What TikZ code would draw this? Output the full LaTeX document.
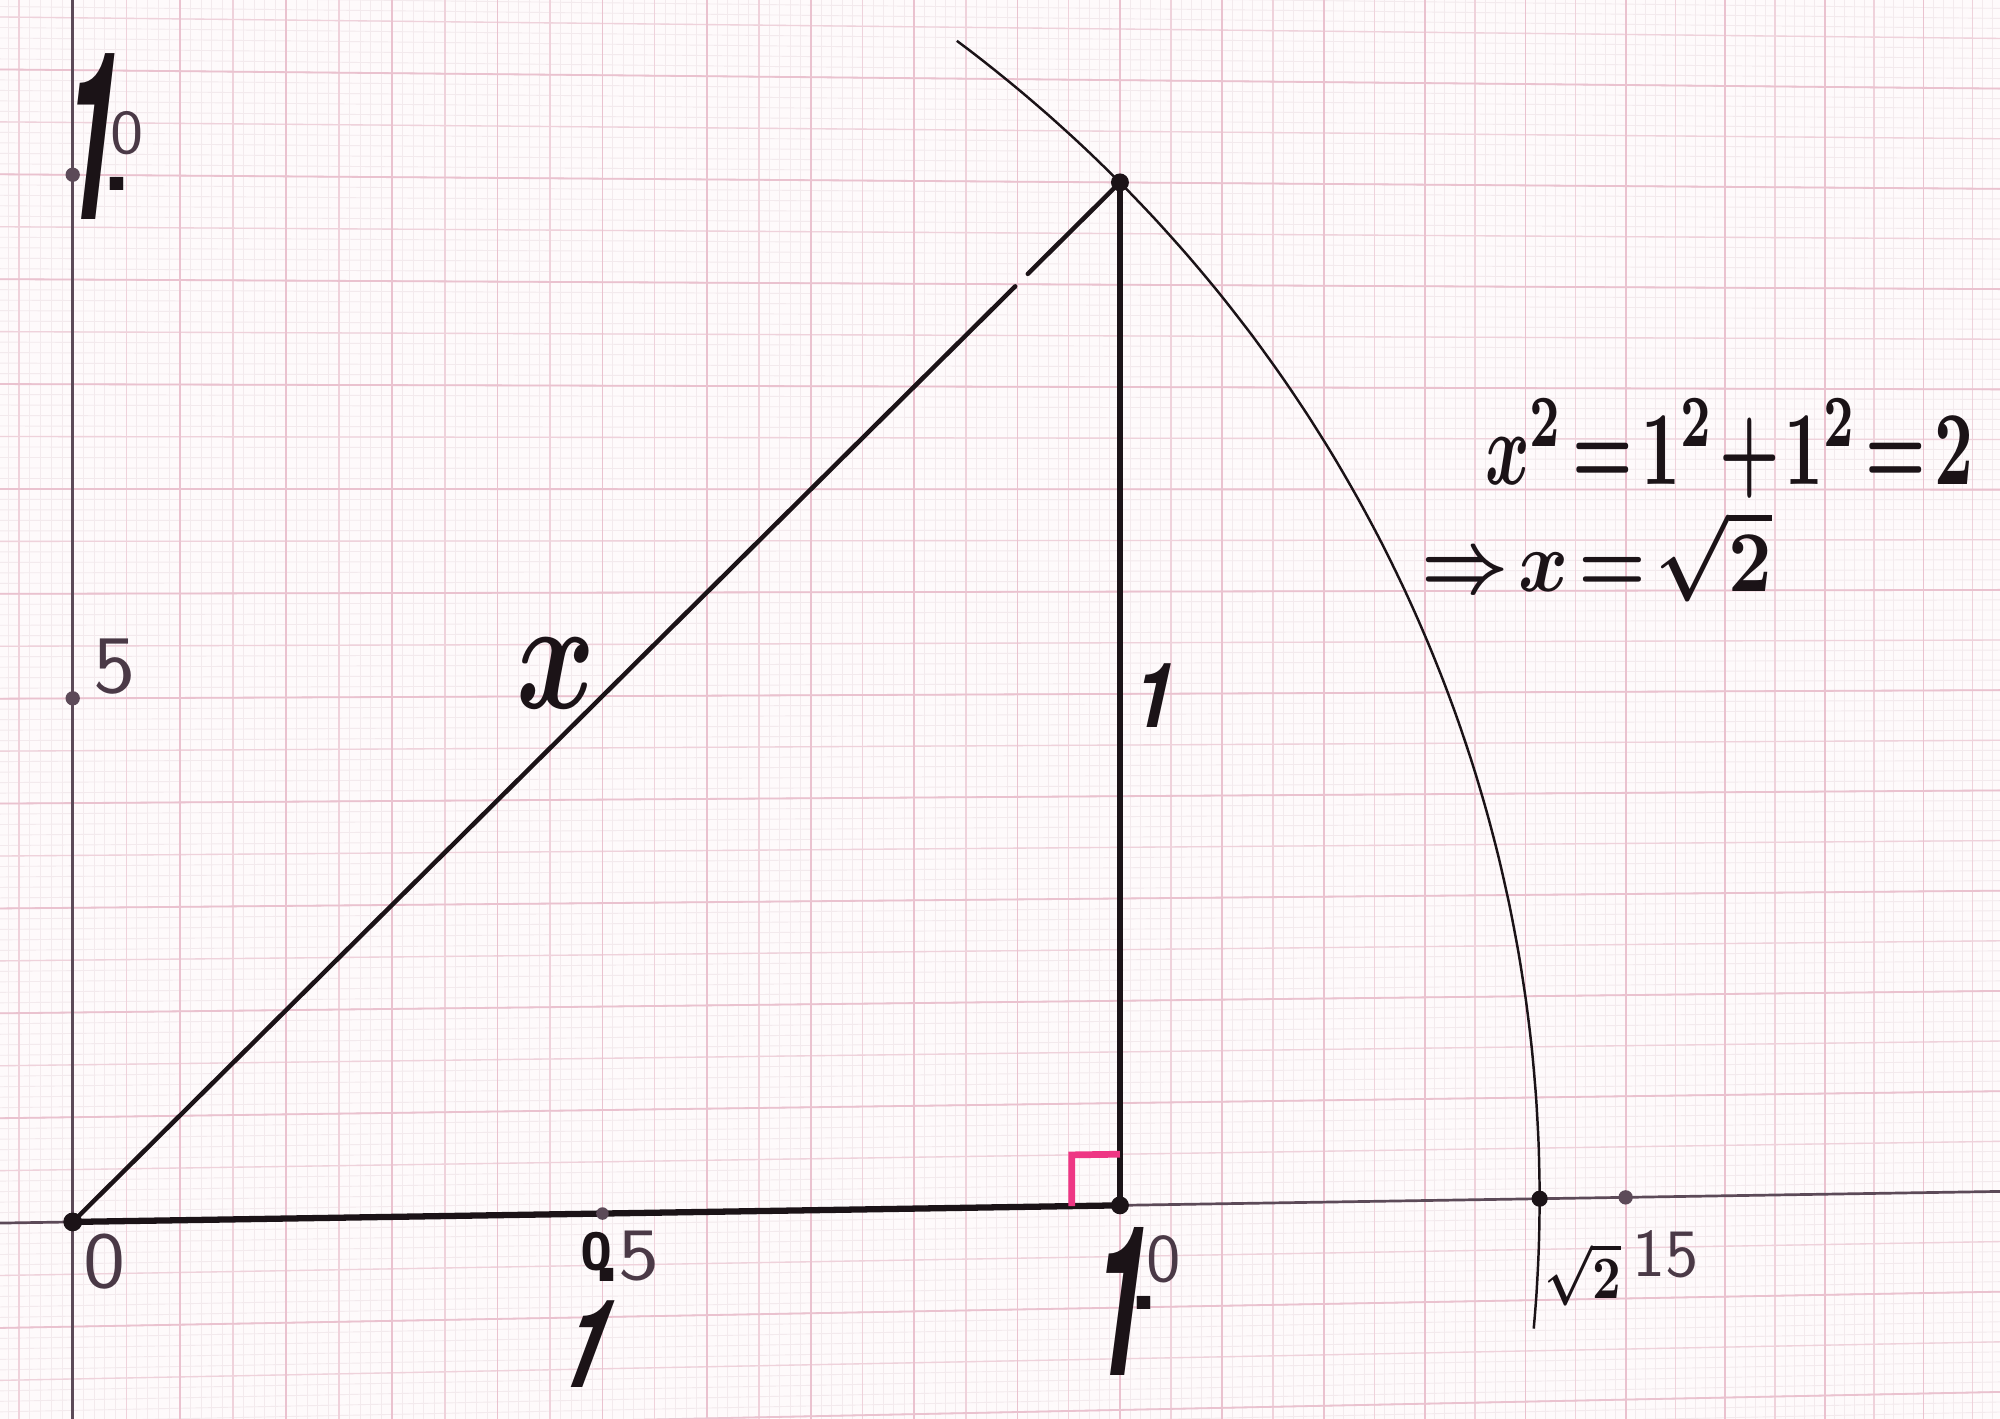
\documentclass[tikz,border=0pt]{standalone}
\usepackage{fontspec}
\usepackage{graphicx}
\newfontfamily\handfont{TeX Gyre Heros}
\newfontfamily\slantone[FakeSlant=0.27]{TeX Gyre Heros}
\usetikzlibrary{calc}
\definecolor{paper}{HTML}{FEFAFB}
\definecolor{gridfinec}{HTML}{F3EAED}
\definecolor{gridmedc}{HTML}{EFD2DB}
\definecolor{gridmajc}{HTML}{EAC2CF}
\definecolor{inkc}{HTML}{1B1317}
\definecolor{axisc}{HTML}{5C4A58}
\definecolor{pencilc}{HTML}{4A3946}
\definecolor{markerc}{HTML}{EE3684}
\newcommand{\thinface}{\sffamily\mdseries\color{pencilc}}
\begin{document}
\begin{tikzpicture}[x=0.01cm,y=-0.01cm,
  declare function={px(\ucoord,\vcoord)=57+840.5*\ucoord/(1+0.0237*\ucoord);
                    py(\ucoord,\vcoord)=958-(821*\vcoord+13.3*\ucoord)/(1+0.0237*\ucoord);},
  gfine/.style={draw=gridfinec,line width=0.2pt},
  gmed/.style={draw=gridmedc,line width=0.3pt},
  gmaj/.style={draw=gridmajc,line width=0.4pt},
  axisline/.style={draw=axisc,line width=0.6pt},
  basestroke/.style={draw=inkc,line width=1.4pt,line cap=round},
  legstroke/.style={draw=inkc,line width=1.2pt,line cap=round},
  hypstroke/.style={draw=inkc,line width=1.0pt,line cap=round},
  arcstroke/.style={draw=inkc,line width=0.55pt},
  rightmark/.style={draw=markerc,line width=1.5pt},
  thinlbl/.style={text=pencilc,inner sep=0pt,font=\sffamily},
  boldlbl/.style={text=inkc,inner sep=0pt,font=\handfont\bfseries},
  onelbl/.style={text=inkc,inner sep=0pt,font=\slantone\bfseries},
  mathlbl/.style={text=inkc,inner sep=0pt,font=\boldmath},
]
\useasboundingbox (0,0) rectangle (1568,1112.5);
\fill[paper] (0,0) rectangle (1568,1112.5);

\coordinate (O) at ({px(0,0)},{py(0,0)});
\coordinate (A) at ({px(1,0)},{py(1,0)});
\coordinate (B) at ({px(1,1)},{py(1,1)});
\coordinate (H) at ({px(0.5,0)},{py(0.5,0)});
\coordinate (S) at ({px(1.4142,0)},{py(1.4142,0)});
\coordinate (F) at ({px(1.5,0)},{py(1.5,0)});
\coordinate (Y5) at ({px(0,0.5)},{py(0,0.5)});
\coordinate (Y1) at ({px(0,1)},{py(0,1)});
\coordinate (XL) at ({px(-0.1,0)},{py(-0.1,0)});
\coordinate (XR) at ({px(1.95,0)},{py(1.95,0)});
\coordinate (YB) at ({px(0,-0.25)},{py(0,-0.25)});
\coordinate (YT) at ({px(0,1.25)},{py(0,1.25)});
\coordinate (M1) at ({px(0.953,0)},{py(0.953,0)});
\coordinate (M2) at ({px(0.953,0.05)},{py(0.953,0.05)});
\coordinate (M3) at ({px(1,0.05)},{py(1,0.05)});

\begin{scope}
  \clip (0,0) rectangle (1568,1112.5);
  \foreach \i in {-8,...,193} {\draw[gfine] ({px(\i/100,-0.3)},{py(\i/100,-0.3)}) -- ({px(\i/100,1.25)},{py(\i/100,1.25)});}
  \foreach \j in {-26,...,122} {\draw[gfine] ({px(-0.1,\j/100)},{py(-0.1,\j/100)}) -- ({px(1.95,\j/100)},{py(1.95,\j/100)});}
  \foreach \i in {-5,0,...,190} {\draw[gmed] ({px(\i/100,-0.3)},{py(\i/100,-0.3)}) -- ({px(\i/100,1.25)},{py(\i/100,1.25)});}
  \foreach \j in {-25,-20,...,120} {\draw[gmed] ({px(-0.1,\j/100)},{py(-0.1,\j/100)}) -- ({px(1.95,\j/100)},{py(1.95,\j/100)});}
  \foreach \i in {0,10,...,190} {\draw[gmaj] ({px(\i/100,-0.3)},{py(\i/100,-0.3)}) -- ({px(\i/100,1.25)},{py(\i/100,1.25)});}
  \foreach \j in {-20,-10,...,120} {\draw[gmaj] ({px(-0.1,\j/100)},{py(-0.1,\j/100)}) -- ({px(1.95,\j/100)},{py(1.95,\j/100)});}

  \draw[axisline] (XL) -- (XR);
  \draw[axisline] (YB) -- (YT);
  \draw[arcstroke] plot[domain=-5.2:53.5,samples=90,variable=\t,smooth]
     ({px(1.4142*cos(\t),1.4142*sin(\t))},{py(1.4142*cos(\t),1.4142*sin(\t))});
\end{scope}

\draw[basestroke] (O) -- (A);
\draw[legstroke] (A) -- (B);
\draw[hypstroke] (O) -- ($(O)!0.9!(B)$);
\draw[hypstroke] ($(O)!0.912!(B)$) -- (B);
\draw[rightmark] (M1) -- (M2) -- (M3);

\fill[inkc] (O) circle (2.1pt);
\fill[inkc] (A) circle (2pt);
\fill[inkc] (B) circle (2pt);
\fill[inkc] (S) circle (1.8pt);
\fill[axisc] (F) circle (1.6pt);
\fill[axisc] (H) circle (1.4pt);
\fill[axisc] (Y5) circle (1.6pt);
\fill[axisc] (Y1) circle (1.6pt);

% axis labels
\node[thinlbl] (l0) at (82,989) {\resizebox{0.33cm}{0.42cm}{0}};
\node[thinlbl] (ly5) at (90,523) {\resizebox{0.33cm}{0.42cm}{5}};
\node[onelbl] (ly1) at (67,107)
  {\resizebox{0.44cm}{1.30cm}{1}%
   \rlap{\hspace*{-0.07cm}\raisebox{0.23cm}{\handfont\bfseries\scalebox{2}{.}}}%
   \rlap{\hspace*{-0.02cm}\raisebox{0.515cm}{\thinface\resizebox{0.26cm}{0.33cm}{0}}}};

\node[boldlbl] (lh) at (468,985)
  {\resizebox{0.24cm}{0.30cm}{0}%
   \rlap{\hspace*{-0.14cm}\raisebox{-0.09cm}{\scalebox{2}{.}}}%
   \rlap{\hspace*{0.05cm}\raisebox{-0.07cm}{\thinface\resizebox{0.32cm}{0.38cm}{5}}}};
\node[onelbl, xslant=0.19] (lbase) at (457,1054) {\resizebox{0.36cm}{0.68cm}{1}};

\node[onelbl] (la) at (873.5,1020)
  {\resizebox{0.44cm}{1.16cm}{1}%
   \rlap{\hspace*{-0.083cm}\raisebox{0.51cm}{\handfont\bfseries\scalebox{2}{.}}}%
   \rlap{\hspace*{0.03cm}\raisebox{0.73cm}{\thinface\resizebox{0.27cm}{0.36cm}{0}}}};

\node[onelbl] (lleg) at (901.5,545) {\resizebox{0.32cm}{0.50cm}{1}};
\node[mathlbl] (lx) at (436,528) {\resizebox{0.62cm}{0.55cm}{$x$}};
\node[mathlbl] (lsq) at (1241,999) {\resizebox*{0.60cm}{0.50cm}{$\sqrt{2}$}};
\node[thinlbl] (l15) at (1306,983) {\resizebox{0.52cm}{0.36cm}{15}};

% equations
\node[mathlbl] (eq1) at (1356,352) {\resizebox{3.83cm}{0.67cm}{$x^{2}\!=\!1^{2}\!+\!1^{2}\!=\!2$}};
\node[mathlbl] (eq2) at (1252,436) {\resizebox*{2.75cm}{0.72cm}{$\Rightarrow\! x\!=\!\sqrt{2}$}};
\end{tikzpicture}
\end{document}
